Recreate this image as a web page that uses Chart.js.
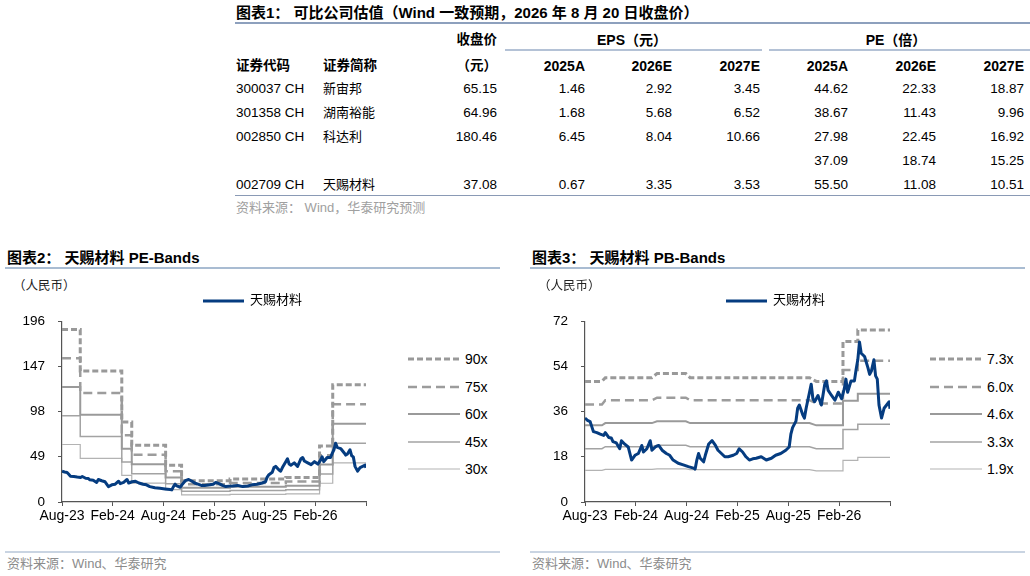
<!DOCTYPE html>
<html>
<head>
<meta charset="utf-8">
<script src="https://cdn.jsdelivr.net/npm/chart.js@4.4.1/dist/chart.umd.min.js"></script>
<style>
body { margin: 0; width: 1030px; height: 576px; background: #fff; position: relative; overflow: hidden;
       font-family: "Liberation Sans", "Noto Sans CJK SC", sans-serif; color: #000; }
.t { position: absolute; white-space: nowrap; line-height: 18px; }
.b { font-weight: bold; }
.rule { position: absolute; }
canvas { position: absolute; }
svg { position: absolute; overflow: visible; }
</style>
</head>
<body>
<canvas id="pe-chart" width="380" height="240" style="left:0;top:300px;width:380px;height:240px"></canvas>
<canvas id="pb-chart" width="380" height="240" style="left:523px;top:300px;width:380px;height:240px"></canvas>

<script>
// TABLE DATA //
const tableTitle = '图表1：  可比公司估值（Wind 一致预期，2026 年 8 月 20 日收盘价）';
const yearCols = ['2025A', '2026E', '2027E'];
const tableRows = [
    ['300037 CH', '新宙邦', '65.15', '1.46', '2.92', '3.45', '44.62', '22.33', '18.87'],
    ['301358 CH', '湖南裕能', '64.96', '1.68', '5.68', '6.52', '38.67', '11.43', '9.96'],
    ['002850 CH', '科达利', '180.46', '6.45', '8.04', '10.66', '27.98', '22.45', '16.92'],
    ['', '', '', '', '', '', '37.09', '18.74', '15.25'],
    ['002709 CH', '天赐材料', '37.08', '0.67', '3.35', '3.53', '55.50', '11.08', '10.51']
];

// CHART DATA //
const xTickMonths = [0, 6, 12, 18, 24, 30, 36];
const xTickLabels = ['Aug-23', 'Feb-24', 'Aug-24', 'Feb-25', 'Aug-25', 'Feb-26', ''];
const peTicks = [0, 49, 98, 147, 196];
const pbTicks = [0, 18, 36, 54, 72];

// closing price samples, months counted from Aug-23
const priceMonths = [0, 0.3, 0.6, 0.8, 1.0, 1.4, 1.8, 2.2, 2.4, 2.8,
                     3.1, 3.3, 3.7, 4.1, 4.3, 4.7, 5.1, 5.5, 5.9, 6.3,
                     6.7, 6.9, 7.3, 7.7, 7.9, 8.3, 8.7, 9.1, 9.6, 10.0,
                     10.4, 11.0, 11.6, 12.2, 12.8, 13.0, 13.2, 13.4, 13.6, 14.0,
                     14.2, 14.6, 15.0, 15.4, 15.7, 16.1, 16.5, 16.9, 17.5, 17.9,
                     18.2, 18.6, 19.0, 19.4, 19.8, 20.2, 20.8, 21.4, 22.0, 22.5,
                     23.1, 23.7, 24.1, 24.3, 24.5, 24.9, 25.1, 25.3, 25.7, 25.9,
                     26.1, 26.5, 26.7, 26.9, 27.1, 27.5, 27.9, 28.3, 28.5, 28.7,
                     29.1, 29.5, 29.9, 30.3, 30.6, 30.8, 31.0, 31.4, 31.8, 32.0,
                     32.2, 32.4, 32.6, 33.0, 33.4, 33.6, 33.8, 34.1, 34.3, 34.5,
                     34.7, 35.0, 35.3, 35.6, 35.9, 36.0];
const price = [33.4, 32.5, 32.0, 30.0, 28.0, 27.6, 27.0, 26.5, 27.6, 25.7,
               25.5, 24.0, 23.5, 21.2, 24.4, 23.0, 21.9, 16.7, 18.6, 19.3,
               22.5, 19.9, 21.2, 24.4, 20.6, 21.9, 22.5, 20.6, 19.3, 18.6,
               16.7, 15.4, 14.8, 14.1, 13.5, 13.1, 16.7, 19.3, 17.4, 16.0,
               18.6, 23.1, 24.4, 22.5, 20.6, 19.3, 18.0, 18.0, 18.6, 19.3,
               21.2, 19.9, 18.0, 16.7, 17.2, 17.4, 18.0, 16.7, 17.4, 18.6,
               19.3, 20.6, 21.9, 27.0, 29.6, 32.2, 37.3, 38.6, 34.7, 33.4,
               37.3, 43.7, 46.9, 41.1, 39.9, 42.4, 38.6, 46.9, 48.2, 44.4,
               42.4, 40.5, 43.7, 41.1, 45.0, 48.9, 43.7, 48.2, 48.2, 52.7,
               56.6, 63.7, 59.2, 57.9, 53.4, 50.8, 52.1, 56.6, 50.2, 48.9,
               38.6, 33.4, 37.3, 38.6, 39.9, 37.1];

// PE bands: level starts (month) and values, held until next start
const peBandMonths = [0, 2.16, 7.08, 8.26, 12.27, 14.16, 19.9, 26.5, 30.5, 32.06, 36];
const pe90 = [187.0, 141.8, 86.6, 61.5, 39.8, 23.1, 24.8, 26.5, 60.8, 127.1, 127.1];
const pe75 = [155.8, 118.2, 72.2, 51.3, 33.2, 19.3, 20.7, 22.1, 50.7, 105.9, 105.9];
const pe60 = [124.7, 94.5, 57.7, 41.0, 26.5, 15.4, 16.5, 17.7, 40.5, 84.7, 84.7];
const pe45 = [93.5, 70.9, 43.3, 30.7, 19.9, 11.6, 12.4, 13.3, 30.4, 63.6, 63.6];
const pe30 = [62.3, 47.3, 28.9, 20.5, 13.3, 7.7, 8.3, 8.8, 20.3, 42.4, 42.4];

// PB bands: breakpoints (month) and values
const pbBandMonths = [0, 2.0, 2.4, 7.9, 8.5, 11.9, 12.4, 26.5, 27.3, 30.45, 30.45, 32.2, 32.2, 36];
const pb73 = [48.0, 48.0, 49.5, 49.5, 51.1, 51.1, 49.5, 49.5, 48.0, 48.0, 63.9, 63.9, 68.5, 68.5];
const pb60 = [38.8, 38.8, 40.5, 40.5, 41.5, 41.5, 40.5, 40.5, 39.2, 39.2, 52.5, 52.5, 56.2, 56.2];
const pb46 = [30.5, 30.5, 31.4, 31.4, 32.1, 32.1, 31.4, 31.4, 30.5, 30.5, 40.3, 40.3, 43.1, 43.1];
const pb33 = [21.2, 21.2, 22.0, 22.0, 22.6, 22.6, 22.0, 22.0, 21.2, 21.2, 28.9, 28.9, 30.9, 30.9];
const pb19 = [12.6, 12.6, 13.0, 13.0, 13.2, 13.2, 12.9, 12.9, 12.4, 12.4, 16.6, 16.6, 17.8, 17.8];

const peLabels = ['90x', '75x', '60x', '45x', '30x'];
const pbLabels = ['7.3x', '6.0x', '4.6x', '3.3x', '1.9x'];

// STYLES //
const blue = '#053c80';
const bandStyles = [
    { color: '#999999', width: 3, dash: [6, 3] },
    { color: '#9c9c9c', width: 2.5, dash: [9, 5] },
    { color: '#9a9a9a', width: 2, dash: [] },
    { color: '#a3a3a3', width: 1.5, dash: [] },
    { color: '#b3b3b3', width: 1.2, dash: [] }
];

// HTML HELPERS //
function text(str, x, y, opts = {}) {
    const d = document.createElement('div');
    d.className = 't' + (opts.bold ? ' b' : '');
    d.textContent = str;
    d.style.top = (y - 9) + 'px';
    d.style.fontSize = (opts.size || 13.5) + 'px';
    if (opts.color) d.style.color = opts.color;
    if (opts.align === 'right') {
        d.style.right = (1030 - x) + 'px';
    } else if (opts.align === 'center') {
        d.style.left = (x - 150) + 'px';
        d.style.width = '300px';
        d.style.textAlign = 'center';
    } else {
        d.style.left = x + 'px';
    }
    document.body.appendChild(d);
}

function rule(x1, x2, y, h, color) {
    const d = document.createElement('div');
    d.className = 'rule';
    d.style.left = x1 + 'px';
    d.style.width = (x2 - x1) + 'px';
    d.style.top = y + 'px';
    d.style.height = h + 'px';
    d.style.background = color;
    document.body.appendChild(d);
}

function legendLine(x1, x2, y, style) {
    const ns = 'http://www.w3.org/2000/svg';
    const svg = document.createElementNS(ns, 'svg');
    svg.setAttribute('width', x2 - x1);
    svg.setAttribute('height', 8);
    svg.style.left = x1 + 'px';
    svg.style.top = (y - 4) + 'px';
    const l = document.createElementNS(ns, 'line');
    l.setAttribute('x1', 0); l.setAttribute('x2', x2 - x1);
    l.setAttribute('y1', 4); l.setAttribute('y2', 4);
    l.setAttribute('stroke', style.color);
    l.setAttribute('stroke-width', style.width);
    if (style.dash.length) l.setAttribute('stroke-dasharray', style.dash.join(' '));
    svg.appendChild(l);
    document.body.appendChild(svg);
}

// TABLE //
text(tableTitle, 236, 13, { bold: true, size: 15 });
rule(235, 1030, 22, 1.5, '#8da0bd');
text('收盘价', 497, 40, { bold: true, size: 13.5, align: 'right' });
text('EPS（元）', 632, 40, { bold: true, size: 14, align: 'center' });
text('PE（倍）', 896, 40, { bold: true, size: 14, align: 'center' });
rule(505, 762, 49, 2, '#b4c2d6');
rule(769, 1030, 49, 2, '#b4c2d6');
text('证券代码', 236, 66, { bold: true, size: 13.5 });
text('证券简称', 323, 66, { bold: true, size: 13.5 });
text('（元）', 497, 66, { bold: true, size: 13.5, align: 'right' });

const colRights = [497, 585, 672, 760, 848, 936, 1024];
yearCols.concat(yearCols).forEach((y, i) => text(y, colRights[i + 1], 66, { bold: true, size: 14, align: 'right' }));

const rowY = [89, 113, 137, 161, 185];
tableRows.forEach((row, r) => {
    text(row[0], 236, rowY[r], { size: 13.5 });
    text(row[1], 323, rowY[r], { size: 13 });
    row.slice(2).forEach((v, i) => text(v, colRights[i], rowY[r], { size: 13.5, align: 'right' }));
});
rule(235, 1030, 195, 1, '#8a9ab5');
text('资料来源：  Wind，华泰研究预测', 236, 208, { size: 13, color: '#a0a0a0' });

// CHART FRAMES //
function frame(left, right, title, bandLabels, plotLeft, legendX) {
    text(title, left + 2, 258, { bold: true, size: 15 });
    rule(left, right, 267, 1.5, '#a9bcd2');
    text('（人民币）', left + 8, 286, { size: 12.5, color: '#222' });
    legendLine(plotLeft + 141, plotLeft + 182, 300.5, { color: blue, width: 3, dash: [] });
    text('天赐材料', plotLeft + 188, 300, { size: 13 });
    bandLabels.forEach((lab, i) => {
        const y = 359 + i * 27.5;
        legendLine(legendX, legendX + 52, y, bandStyles[i]);
        text(lab, legendX + 57, y, { size: 14 });
    });
    rule(left, right, 551, 2, '#c9d4e2');
    text('资料来源：Wind、华泰研究', left + 2, 564, { size: 13, color: '#8c8c8c' });
}

frame(5, 500, '图表2：  天赐材料 PE-Bands', peLabels, 62, 408);
frame(530, 1025, '图表3：  天赐材料 PB-Bands', pbLabels, 585, 930);

// CHARTS //
Chart.defaults.font.family = '"Liberation Sans", "Noto Sans CJK SC", sans-serif';
Chart.defaults.color = '#000';

function points(xs, ys) {
    return xs.map((x, i) => ({ x: x, y: ys[i] }));
}

const priceData = points(priceMonths, price);

function bandSet(xs, ys, i, stepped) {
    const s = bandStyles[i];
    return {
        data: points(xs, ys),
        borderColor: s.color,
        borderWidth: s.width,
        borderDash: s.dash,
        stepped: stepped,
        pointRadius: 0,
        tension: 0,
        fill: false
    };
}

function makeChart(canvasId, bands, bandX, stepped, yTicks, rightPad) {
    const datasets = [{
        data: priceData,
        borderColor: blue,
        borderWidth: 3,
        borderJoinStyle: 'round',
        pointRadius: 0,
        tension: 0,
        fill: false
    }];
    bands.forEach((b, i) => datasets.push(bandSet(bandX, b, i, stepped)));

    return new Chart(document.getElementById(canvasId), {
        type: 'line',
        data: { datasets: datasets },
        options: {
            responsive: false,
            animation: false,
            layout: { padding: { top: 15, right: rightPad, left: 0, bottom: 0 } },
            plugins: { legend: { display: false }, tooltip: { enabled: false } },
            scales: {
                x: {
                    type: 'linear',
                    min: 0,
                    max: 36,
                    afterBuildTicks: scale => { scale.ticks = xTickMonths.map(v => ({ value: v })); },
                    afterFit: scale => { scale.height = 38; },
                    ticks: {
                        autoSkip: false,
                        maxRotation: 0,
                        padding: 2,
                        font: { size: 14 },
                        callback: v => xTickLabels[xTickMonths.indexOf(v)]
                    },
                    grid: { drawOnChartArea: false, tickLength: 4, color: '#555' },
                    border: { color: '#555', width: 1.2 }
                },
                y: {
                    min: yTicks[0],
                    max: yTicks[yTicks.length - 1],
                    afterBuildTicks: scale => { scale.ticks = yTicks.map(v => ({ value: v })); },
                    afterFit: scale => { scale.width = 62; },
                    ticks: { padding: 13, font: { size: 13.5 } },
                    grid: { drawOnChartArea: false, tickLength: 4, color: '#555' },
                    border: { color: '#555', width: 1.2 }
                }
            }
        }
    });
}

const peChart = makeChart('pe-chart', [pe90, pe75, pe60, pe45, pe30], peBandMonths, true, peTicks, 14);
const pbChart = makeChart('pb-chart', [pb73, pb60, pb46, pb33, pb19], pbBandMonths, false, pbTicks, 13);
</script>
</body>
</html>
